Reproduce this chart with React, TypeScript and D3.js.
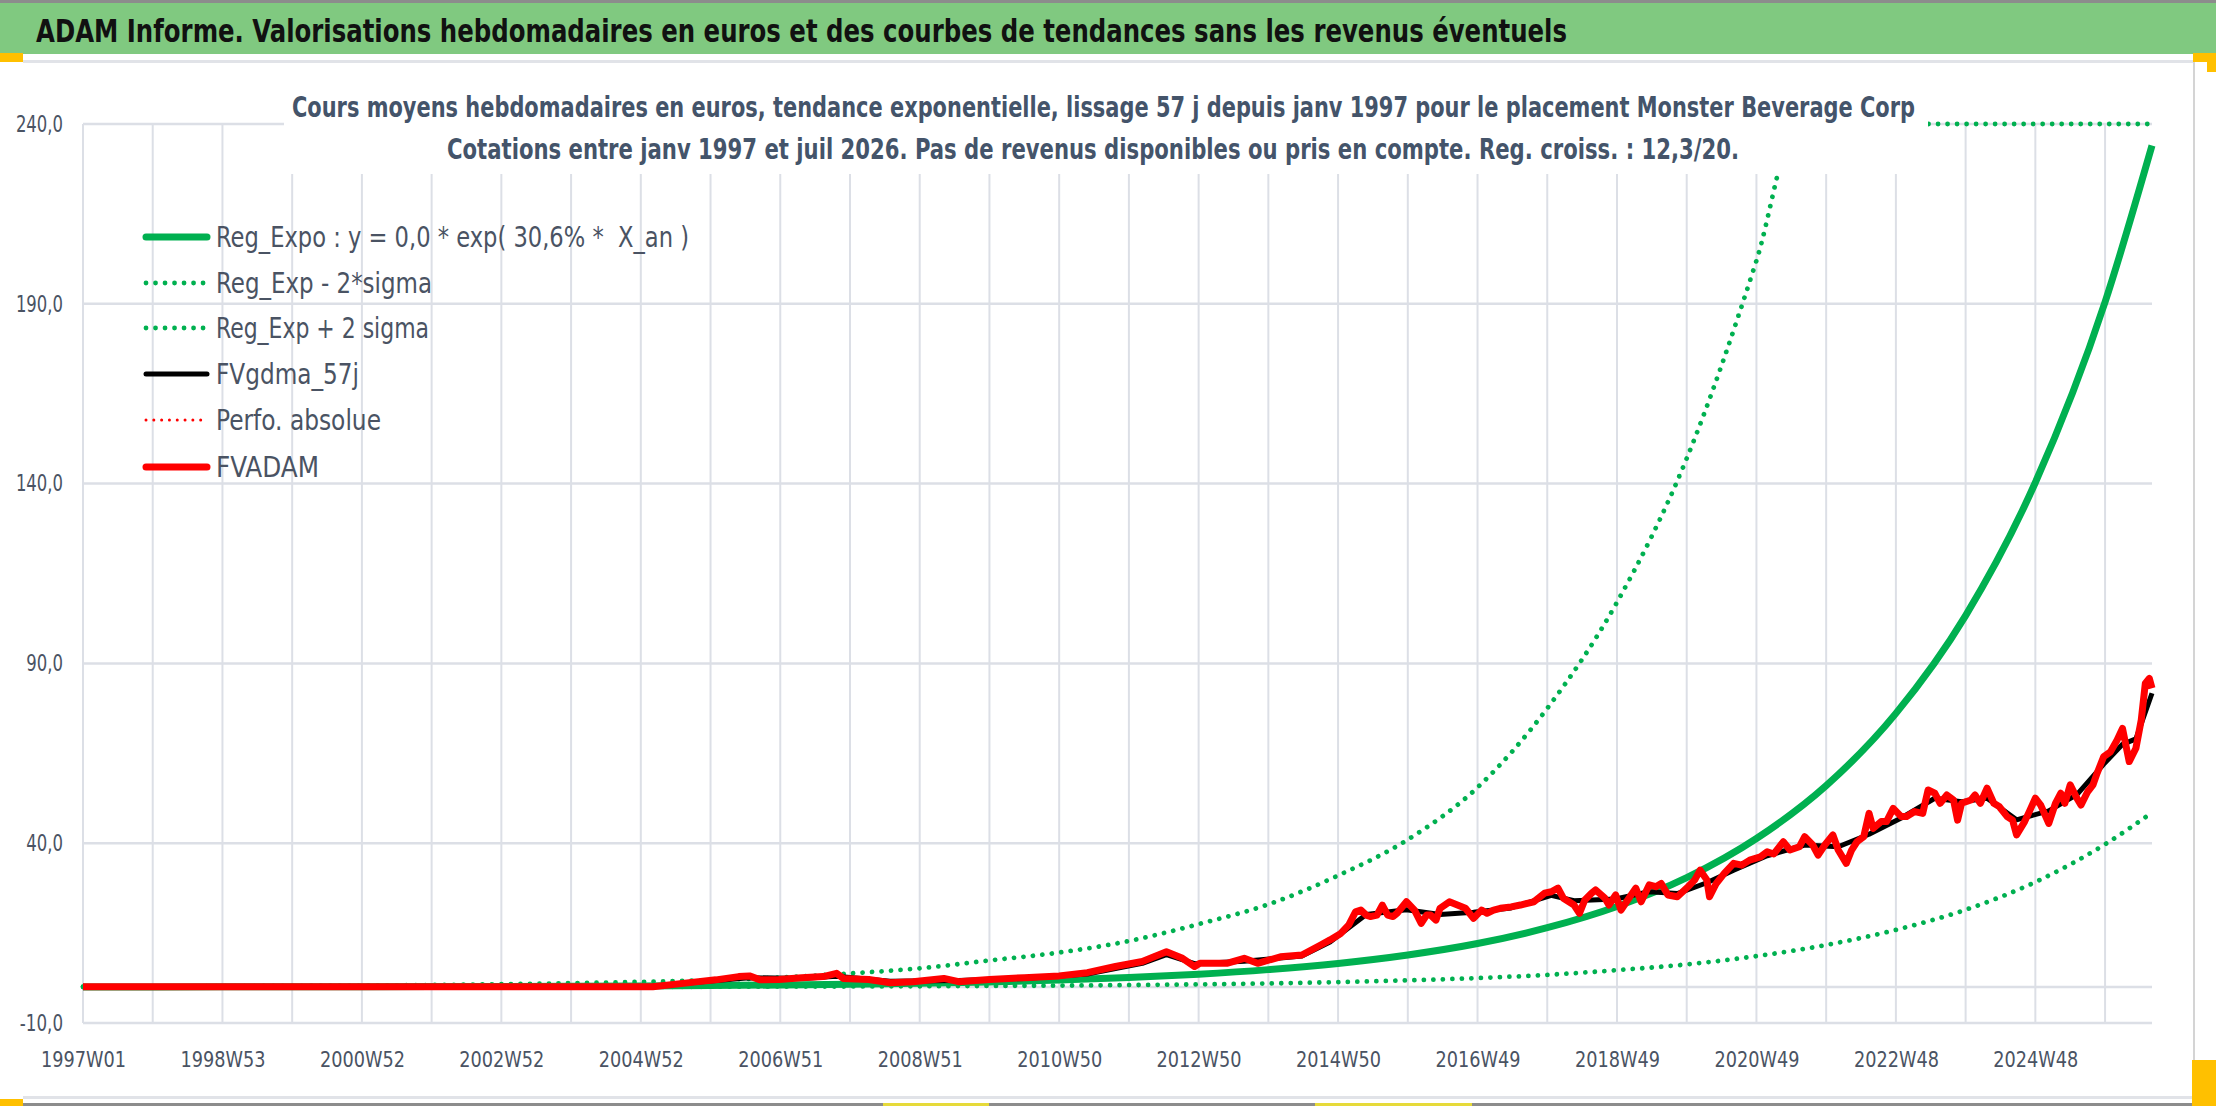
import { useEffect, useRef } from "react";
import * as d3 from "d3";

// x values are week numbers counted from 1997W01
const weekLabels = [
  "1997W01", "1998W53", "2000W52", "2002W52", "2004W52", "2006W51", "2008W51", "2010W50",
  "2012W50", "2014W50", "2016W49", "2018W49", "2020W49", "2022W48", "2024W48",
];
const yTicks = [-10, 40, 90, 140, 190, 240];

const trendWeeks = [
  0, 52, 104, 156, 208, 260, 312, 364, 416, 468, 520, 572, 624, 676, 728, 780,
  832, 884, 936, 988, 1040, 1092, 1144, 1196, 1248, 1300, 1352, 1404, 1456, 1508, 1543,
];
const regExpo = [
  0.03, 0.04, 0.05, 0.07, 0.09, 0.12, 0.17, 0.23, 0.31, 0.42, 0.57, 0.77, 1.05, 1.42, 1.93, 2.62,
  3.56, 4.84, 6.57, 8.92, 12.1, 16.5, 22.4, 30.4, 41.3, 56.0, 76.1, 103.3, 140.3, 190.5, 234,
];
const regLow = [
  0.01, 0.01, 0.01, 0.01, 0.02, 0.03, 0.04, 0.05, 0.06, 0.09, 0.12, 0.16, 0.22, 0.3, 0.4, 0.55,
  0.74, 1.0, 1.37, 1.86, 2.5, 3.4, 4.7, 6.3, 8.6, 11.7, 15.9, 21.5, 29.2, 39.7, 48.5,
];
const regHighWeeks = [
  0, 52, 104, 156, 208, 260, 312, 364, 416, 468, 520, 572, 624, 676, 728, 780,
  832, 884, 936, 988, 1040, 1092, 1144, 1196, 1248, 1279, 1300, 1352, 1404, 1456, 1508, 1543,
];
const regHigh = [
  0.14, 0.19, 0.23, 0.33, 0.42, 0.56, 0.79, 1.07, 1.44, 1.95, 2.65, 3.8, 5.2, 7.4, 9.6, 12.8,
  17.5, 23.0, 31.0, 41.0, 55.5, 77.5, 107, 147, 202, 240, 240, 240, 240, 240, 240, 240,
];

const fvWeeks = [
  0, 364, 385, 425, 459, 472, 489, 497, 505, 519, 536, 552, 562, 567, 586, 602, 619, 642, 653, 676,
  702, 728, 749, 770, 790, 808, 820, 829, 833, 853, 866, 876, 893, 909, 923, 930, 938, 944, 949, 953,
  957, 960, 965, 969, 973, 977, 980, 987, 993, 998, 1002, 1005, 1009, 1012, 1019, 1025, 1031, 1037, 1043, 1047,
  1052, 1057, 1065, 1072, 1082, 1090, 1095, 1100, 1104, 1112, 1116, 1120, 1125, 1128, 1135, 1138, 1143, 1147, 1152, 1158,
  1162, 1168, 1173, 1177, 1182, 1189, 1197, 1202, 1206, 1211, 1213, 1218, 1224, 1231, 1237, 1243, 1251, 1256, 1261, 1268,
  1273, 1280, 1284, 1290, 1294, 1299, 1305, 1309, 1315, 1319, 1323, 1328, 1332, 1335, 1341, 1345, 1350, 1356, 1360, 1366,
  1372, 1376, 1381, 1385, 1390, 1395, 1398, 1401, 1408, 1411, 1415, 1420, 1425, 1429, 1435, 1439, 1442, 1448, 1452, 1456,
  1460, 1466, 1471, 1475, 1478, 1482, 1487, 1490, 1495, 1499, 1502, 1507, 1512, 1517, 1521, 1526, 1531, 1535, 1538, 1541,
  1543,
];
const fvAdam = [
  0.1, 0.1, 0.1, 0.1, 1.5, 2.0, 2.9, 3.1, 2.0, 2.1, 2.6, 2.9, 3.8, 2.4, 2.1, 1.2, 1.5, 2.4, 1.5, 2.1,
  2.6, 3.1, 4.0, 5.7, 7.1, 9.8, 8.0, 5.7, 6.6, 6.6, 8.0, 6.6, 8.4, 8.9, 11.7, 13.1, 14.9, 17.3, 20.9, 21.4,
  20.0, 19.6, 20.0, 22.8, 20.0, 19.6, 20.5, 23.7, 21.4, 17.7, 20.0, 20.0, 18.6, 21.9, 23.7, 22.8, 21.9, 19.1, 21.4, 20.5,
  21.4, 21.9, 22.3, 22.8, 23.7, 26.1, 26.5, 27.5, 24.7, 22.8, 20.5, 24.2, 26.1, 27.0, 24.7, 22.8, 25.6, 21.4, 24.2, 27.5,
  23.7, 28.4, 27.9, 28.8, 25.6, 25.1, 27.9, 29.8, 32.5, 29.8, 25.1, 28.8, 31.6, 34.4, 33.9, 35.3, 36.2, 37.6, 37.0, 40.4,
  38.1, 39.0, 41.8, 39.5, 36.7, 39.5, 42.3, 38.1, 34.4, 38.1, 40.4, 41.8, 48.3, 44.1, 46.0, 46.0, 49.7, 47.4, 47.4, 48.8,
  48.3, 54.8, 53.9, 51.1, 53.4, 52.0, 46.4, 51.1, 52.0, 53.4, 51.1, 55.3, 51.1, 50.2, 47.4, 46.4, 42.3, 46.0, 49.2, 52.5,
  50.6, 45.5, 51.1, 53.9, 51.1, 56.2, 52.5, 50.6, 54.3, 56.2, 59.4, 64.1, 65.4, 68.7, 71.9, 62.7, 66.4, 74.3, 84.4, 85.8,
  83.1,
];

const gdmaWeeks = [
  0, 364, 425, 472, 497, 536, 562, 602, 653, 702, 749, 790, 808, 829, 866, 909, 930, 944, 957, 987,
  1012, 1037, 1065, 1095, 1112, 1143, 1168, 1189, 1211, 1231, 1256, 1284, 1309, 1332, 1356, 1381, 1401, 1420, 1442, 1466,
  1487, 1507, 1521, 1531, 1543,
];
const gdma = [
  0.1, 0.1, 0.2, 1.8, 2.6, 2.4, 3.0, 1.6, 1.8, 2.4, 3.6, 6.6, 9.0, 6.5, 7.2, 8.6, 12.5, 16.5, 20.2, 21.5,
  20.2, 20.8, 22.0, 25.5, 24.0, 24.5, 26.5, 26.0, 29.0, 32.5, 36.5, 39.5, 39.0, 42.5, 47.0, 52.5, 51.5, 52.5, 46.5, 49.0,
  53.5, 62.0, 67.5, 69.0, 81.7,
];

const legendLabels = [
  "Reg_Expo : y = 0,0 * exp( 30,6% *  X_an )",
  "Reg_Exp - 2*sigma",
  "Reg_Exp + 2 sigma",
  "FVgdma_57j",
  "Perfo. absolue",
  "FVADAM",
];

const headerTitle =
  "ADAM Informe. Valorisations hebdomadaires en euros et des courbes de tendances sans les revenus éventuels";
const chartTitle1 =
  "Cours moyens hebdomadaires en euros, tendance exponentielle, lissage 57 j depuis janv 1997 pour le placement Monster Beverage Corp";
const chartTitle2 =
  "Cotations entre janv 1997 et juil 2026. Pas de revenus disponibles ou pris en compte. Reg. croiss. : 12,3/20.";

const W = 2216;
const H = 1106;
const FONT = "'Liberation Sans Narrow', 'DejaVu Sans Condensed', 'Open Sans', sans-serif";
const TEXT = "#4a5363";
const GRID = "#dcdfe6";
const GREEN = "#00b050";

// approximate width of a narrow-font number label
const labelWidth = (s: string) =>
  Array.from(s).reduce((w, ch) => w + (ch === "," ? 5.5 : ch === "-" ? 6.5 : 10.4), 0);

export default function App() {
  const ref = useRef<SVGSVGElement | null>(null);

  useEffect(() => {
    if (!ref.current) return;
    const svg = d3.select(ref.current);
    svg.selectAll("*").remove();

    const margin = { left: 83, right: 2152, top: 124, bottom: 1023 };
    const x = d3.scaleLinear().domain([0, 1543]).range([margin.left, margin.right]);
    const y = d3.scaleLinear().domain([-10, 240]).range([margin.bottom, margin.top]);
    const fmt = d3.formatLocale({ decimal: ",", thousands: " ", grouping: [3], currency: ["", "€"], minus: "-" }).format(".1f");

    // frame
    svg.append("rect").attr("width", W).attr("height", H).attr("fill", "#fff");
    svg.append("rect").attr("x", 0).attr("y", 0).attr("width", W).attr("height", 3).attr("fill", "#8c8c8c");
    svg.append("rect").attr("x", 0).attr("y", 3).attr("width", W).attr("height", 51).attr("fill", "#80c980");
    svg.append("rect").attr("x", 23).attr("y", 60).attr("width", 2170).attr("height", 3).attr("fill", "#e1e3e8");
    svg.append("rect").attr("x", 23).attr("y", 1096).attr("width", 2170).attr("height", 3).attr("fill", "#e1e3e8");
    svg.append("rect").attr("x", 2193).attr("y", 62).attr("width", 2).attr("height", 1000).attr("fill", "#d4d4d4");
    svg.append("rect").attr("x", 0).attr("y", 1103).attr("width", W).attr("height", 3).attr("fill", "#8c8c8c");
    const handles: [number, number, number, number, string][] = [
      [0, 53, 23, 9, "#ffc000"],
      [2193, 53, 23, 9, "#ffc000"],
      [2207, 62, 9, 10, "#ffc000"],
      [0, 1099, 23, 7, "#ffc000"],
      [2192, 1060, 24, 46, "#ffc000"],
      [883, 1103, 106, 3, "#e6da3a"],
      [1315, 1103, 157, 3, "#e6da3a"],
    ];
    handles.forEach(([hx, hy, hw, hh, c]) => {
      svg.append("rect").attr("x", hx).attr("y", hy).attr("width", hw).attr("height", hh).attr("fill", c);
    });

    svg.append("text")
      .attr("x", 36).attr("y", 42)
      .attr("font-family", FONT).attr("font-weight", "bold").attr("font-size", 32)
      .attr("fill", "#111").attr("textLength", 1531).attr("lengthAdjust", "spacingAndGlyphs")
      .text(headerTitle);

    // grid
    const grid = svg.append("g");
    grid.selectAll("line.v")
      .data(d3.range(0, 1544, 52))
      .enter().append("line")
      .attr("x1", (d) => x(d)).attr("x2", (d) => x(d))
      .attr("y1", margin.top).attr("y2", margin.bottom)
      .attr("stroke", GRID).attr("stroke-width", 2);
    grid.selectAll("line.h")
      .data([...yTicks, 0])
      .enter().append("line")
      .attr("x1", margin.left).attr("x2", margin.right)
      .attr("y1", (d) => y(d)).attr("y2", (d) => y(d))
      .attr("stroke", GRID).attr("stroke-width", 2.5);

    // axes labels
    const yAxis = d3.axisLeft(y).tickValues(yTicks).tickFormat((d) => fmt(d as number)).tickSize(0).tickPadding(0);
    const gy = svg.append("g").attr("transform", "translate(63,0)").call(yAxis);
    gy.select(".domain").remove();
    gy.selectAll<SVGTextElement, number>("text")
      .attr("font-family", FONT).attr("font-size", 23).attr("fill", TEXT)
      .attr("textLength", (d) => labelWidth(fmt(d))).attr("lengthAdjust", "spacingAndGlyphs");

    const xAxis = d3.axisBottom(x)
      .tickValues(d3.range(0, 1544, 104))
      .tickFormat((_, i) => weekLabels[i])
      .tickSize(0).tickPadding(0);
    const gx = svg.append("g").attr("transform", "translate(0,1051)").call(xAxis);
    gx.select(".domain").remove();
    gx.selectAll("text").attr("font-family", FONT).attr("font-size", 22).attr("fill", TEXT)
      .attr("textLength", 85).attr("lengthAdjust", "spacingAndGlyphs");

    // series
    const trend = d3.line<[number, number]>().x((d) => x(d[0])).y((d) => y(d[1])).curve(d3.curveMonotoneX);
    const plain = d3.line<[number, number]>().x((d) => x(d[0])).y((d) => y(d[1]));
    const zip = (a: number[], b: number[]) => a.map((w, i) => [w, b[i]] as [number, number]);

    svg.append("path").attr("d", trend(zip(trendWeeks, regExpo)))
      .attr("fill", "none").attr("stroke", GREEN).attr("stroke-width", 7);
    svg.append("path").attr("d", trend(zip(trendWeeks, regLow)))
      .attr("fill", "none").attr("stroke", GREEN).attr("stroke-width", 4.8)
      .attr("stroke-linecap", "round").attr("stroke-dasharray", "0.01 9.5");
    svg.append("path").attr("d", trend(zip(regHighWeeks, regHigh)))
      .attr("fill", "none").attr("stroke", GREEN).attr("stroke-width", 4.8)
      .attr("stroke-linecap", "round").attr("stroke-dasharray", "0.01 9.5");
    svg.append("path").attr("d", plain(zip(gdmaWeeks, gdma)))
      .attr("fill", "none").attr("stroke", "#000").attr("stroke-width", 5).attr("stroke-linejoin", "round");
    svg.append("path").attr("d", plain(zip(fvWeeks, fvAdam)))
      .attr("fill", "none").attr("stroke", "#ff0000").attr("stroke-width", 7).attr("stroke-linejoin", "round");

    // chart title box
    svg.append("rect").attr("x", 284).attr("y", 64).attr("width", 1644).attr("height", 110).attr("fill", "#fff");
    svg.append("text").attr("x", 292).attr("y", 117)
      .attr("font-family", FONT).attr("font-weight", "bold").attr("font-size", 28).attr("fill", "#44546a")
      .attr("textLength", 1623).attr("lengthAdjust", "spacingAndGlyphs").text(chartTitle1);
    svg.append("text").attr("x", 447).attr("y", 159)
      .attr("font-family", FONT).attr("font-weight", "bold").attr("font-size", 28).attr("fill", "#44546a")
      .attr("textLength", 1292).attr("lengthAdjust", "spacingAndGlyphs").text(chartTitle2);

    // legend
    const legendY = [237, 283, 328, 374, 420, 467];
    const legendTextW = [473, 216, 213, 143, 165, 103];
    const legendStyle = [
      { c: GREEN, w: 7, dash: null },
      { c: GREEN, w: 4.8, dash: "0.01 9.5" },
      { c: GREEN, w: 4.8, dash: "0.01 9.5" },
      { c: "#000", w: 5, dash: null },
      { c: "#ff0000", w: 3, dash: "0.01 7.8" },
      { c: "#ff0000", w: 7, dash: null },
    ];
    const lg = svg.append("g");
    legendLabels.forEach((label, i) => {
      const st = legendStyle[i];
      const ln = lg.append("line")
        .attr("x1", 146).attr("x2", 207).attr("y1", legendY[i]).attr("y2", legendY[i])
        .attr("stroke", st.c).attr("stroke-width", st.w).attr("stroke-linecap", "round");
      if (st.dash) ln.attr("stroke-dasharray", st.dash);
      lg.append("text").attr("x", 216).attr("y", legendY[i] + 10)
        .attr("font-family", FONT).attr("font-size", 29).attr("fill", TEXT)
        .style("white-space", "pre")
        .attr("textLength", legendTextW[i]).attr("lengthAdjust", "spacingAndGlyphs")
        .text(label);
    });
  }, []);

  return (
    <svg
      ref={ref}
      width={W}
      height={H}
      style={{ position: "absolute", left: 0, top: 0, display: "block" }}
    />
  );
}
